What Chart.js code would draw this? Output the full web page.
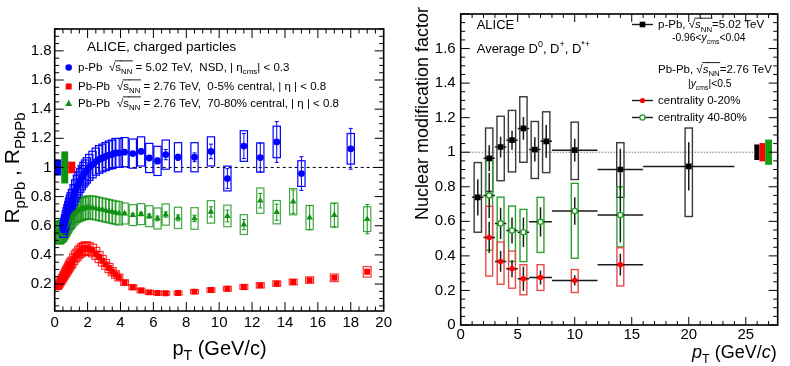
<!DOCTYPE html>
<html>
<head>
<meta charset="utf-8">
<script src="https://cdn.jsdelivr.net/npm/chart.js@4.4.1/dist/chart.umd.min.js"></script>
<style>
html,body{margin:0;padding:0;background:#fff;}
.p{position:absolute;top:0;width:395px;height:366px;}
#pa{left:0}#pb{left:395px}
</style>
</head>
<body>
<div class="p" id="pa"><canvas id="c1" width="395" height="366"></canvas></div>
<div class="p" id="pb"><canvas id="c2" width="395" height="366"></canvas></div>
<script>
// ================= LEFT PANEL DATA (charged particles) =================
const leftXTicks = [0,2,4,6,8,10,12,14,16,18,20];
const leftXLabels = ['0','2','4','6','8','10','12','14','16','18','20'];
const leftYTicks = [0.2,0.4,0.6,0.8,1.0,1.2,1.4,1.6,1.8];
const leftYLabels = ['0.2','0.4','0.6','0.8','1','1.2','1.4','1.6','1.8'];

// p-Pb sqrt(sNN)=5.02 TeV, NSD
const pPbPt = [0.525,0.575,0.625,0.675,0.725,0.775,0.825,0.875,0.925,0.975,
  1.05,1.15,1.25,1.35,1.45,1.55,1.65,1.75,1.85,1.95,
  2.1,2.3,2.5,2.7,2.9,3.1,3.3,3.5,3.7,3.9,
  4.25,4.75,5.25,5.75,6.25,6.75,7.5,8.5,9.5,10.5,11.5,12.5,13.5,15,18];
const pPbR = [0.57,0.595,0.62,0.645,0.665,0.685,0.705,0.725,0.745,0.76,
  0.78,0.81,0.84,0.87,0.89,0.91,0.93,0.95,0.965,0.98,
  1.0,1.02,1.04,1.055,1.065,1.075,1.085,1.09,1.1,1.1,
  1.105,1.095,1.11,1.065,1.045,1.088,1.07,1.07,1.11,0.924,1.147,1.068,1.175,0.958,1.128];
const pPbStat = [0,0,0,0,0,0,0,0,0,0,
  0,0,0,0,0,0,0,0,0,0,
  0,0,0,0,0,0,0,0,0,0,
  0.01,0.012,0.015,0.017,0.02,0.035,0.02,0.03,0.05,0.068,0.086,0.10,0.14,0.116,0.14];
const pPbSys = [0.05,0.053,0.055,0.057,0.059,0.06,0.062,0.064,0.066,0.068,
  0.069,0.072,0.075,0.077,0.079,0.081,0.083,0.085,0.086,0.087,
  0.089,0.091,0.093,0.095,0.095,0.096,0.097,0.098,0.099,0.099,
  0.10,0.10,0.10,0.10,0.10,0.10,0.10,0.10,0.10,0.085,0.105,0.10,0.108,0.088,0.105];

// Pb-Pb sqrt(sNN)=2.76 TeV transverse momentum bins
const pbPbPt = [0.175,0.225,0.275,0.325,0.375,0.425,0.475,0.525,0.575,0.625,0.675,0.725,0.775,0.825,0.875,0.925,0.975,
  1.05,1.15,1.25,1.35,1.45,1.55,1.65,1.75,1.85,1.95,
  2.1,2.3,2.5,2.7,2.9,3.1,3.3,3.5,3.7,3.9,
  4.25,4.75,5.25,5.75,6.25,6.75,7.5,8.5,9.5,10.5,11.5,12.5,13.5,14.5,15.5,17,19];
// 0-5% central
const centR = [0.18,0.19,0.20,0.21,0.22,0.23,0.24,0.25,0.26,0.27,0.28,0.29,0.30,0.31,0.32,0.33,0.34,
  0.35,0.37,0.39,0.40,0.415,0.425,0.435,0.44,0.445,0.445,
  0.44,0.43,0.41,0.385,0.36,0.335,0.31,0.285,0.265,0.245,
  0.21,0.178,0.156,0.143,0.138,0.137,0.138,0.148,0.159,0.168,0.18,0.191,0.203,0.214,0.227,0.243,0.284];
const centStat = [0,0,0,0,0,0,0,0,0,0,0,0,0,0,0,0,0,
  0,0,0,0,0,0,0,0,0,0,
  0,0,0,0,0,0,0,0,0,0,
  0.002,0.002,0.002,0.002,0.002,0.002,0.002,0.003,0.003,0.004,0.005,0.006,0.007,0.008,0.009,0.01,0.012];
const centSys = [0.018,0.019,0.02,0.021,0.022,0.023,0.024,0.025,0.026,0.027,0.028,0.029,0.03,0.031,0.032,0.033,0.034,
  0.035,0.037,0.039,0.04,0.041,0.042,0.043,0.044,0.044,0.044,
  0.044,0.043,0.041,0.038,0.036,0.033,0.031,0.028,0.026,0.024,
  0.019,0.017,0.015,0.014,0.013,0.013,0.013,0.014,0.015,0.016,0.017,0.018,0.019,0.02,0.022,0.026,0.036];
// 70-80% central
const periR = [0.56,0.555,0.55,0.55,0.555,0.56,0.565,0.57,0.58,0.59,0.60,0.61,0.62,0.63,0.64,0.65,0.655,
  0.665,0.68,0.69,0.70,0.705,0.71,0.715,0.72,0.72,0.725,
  0.725,0.725,0.72,0.715,0.71,0.705,0.70,0.695,0.69,0.685,
  0.684,0.673,0.68,0.666,0.65,0.677,0.654,0.65,0.695,0.667,0.608,0.772,0.693,0.765,0.656,0.673,0.645];
const periStat = [0,0,0,0,0,0,0,0,0,0,0,0,0,0,0,0,0,
  0,0,0,0,0,0,0,0,0,0,
  0,0,0,0,0,0,0,0,0,0,
  0.008,0.01,0.012,0.014,0.016,0.018,0.02,0.022,0.035,0.04,0.035,0.05,0.055,0.08,0.083,0.08,0.1];
const periSys = [0.075,0.075,0.075,0.075,0.075,0.075,0.075,0.075,0.075,0.075,0.075,0.075,0.075,0.075,0.075,0.075,0.075,
  0.078,0.078,0.078,0.078,0.078,0.078,0.078,0.078,0.078,0.078,
  0.08,0.08,0.08,0.08,0.08,0.08,0.08,0.08,0.08,0.08,
  0.072,0.072,0.072,0.072,0.072,0.073,0.073,0.074,0.077,0.074,0.068,0.087,0.08,0.09,0.083,0.083,0.085];
// normalisation uncertainties around unity (p-Pb, 70-80%, 0-5%)
const leftNormX0 = [0, 0.4, 0.82];
const leftNormX1 = [0.4, 0.82, 1.25];
const leftNormHalf = [0.055, 0.11, 0.04];

// ================= RIGHT PANEL DATA (D mesons) =================
const rightXTicks = [0,5,10,15,20,25];
const rightXLabels = ['0','5','10','15','20','25'];
const rightYTicks = [0,0.2,0.4,0.6,0.8,1.0,1.2,1.4,1.6];
const rightYLabels = ['0','0.2','0.4','0.6','0.8','1','1.2','1.4','1.6'];

const dPPbPt = [1.5,2.5,3.5,4.5,5.5,6.5,7.5,10,14,20];
const dPPbXerr = [0.5,0.5,0.5,0.5,0.5,0.5,0.5,2,2,4];
const dPPbR = [0.739,0.965,1.03,1.07,1.138,1.016,1.063,1.012,0.90,0.918];
const dPPbStat = [0.105,0.075,0.06,0.055,0.066,0.07,0.095,0.066,0.12,0.14];
const dPPbSysUp = [0.201,0.175,0.178,0.172,0.183,0.162,0.171,0.162,0.155,0.222];
const dPPbSysLo = [0.202,0.192,0.195,0.184,0.196,0.168,0.181,0.17,0.161,0.29];

const dCentPt = [2.5,3.5,4.5,5.5,7,10,14];
const dCentXerr = [0.5,0.5,0.5,0.5,1,2,2];
const dCentR = [0.507,0.368,0.326,0.268,0.275,0.258,0.349];
const dCentStat = [0.09,0.06,0.05,0.07,0.04,0.03,0.063];
const dCentSysUp = [0.18,0.112,0.102,0.081,0.074,0.063,0.098];
const dCentSysLo = [0.224,0.132,0.113,0.093,0.075,0.07,0.123];

const dPeriPt = [2.5,3.5,4.5,5.5,7,10,14];
const dPeriXerr = [0.5,0.5,0.5,0.5,1,2,2];
const dPeriR = [0.75,0.588,0.547,0.537,0.597,0.66,0.637];
const dPeriStat = [0.13,0.09,0.075,0.085,0.085,0.08,0.16];
const dPeriSysUp = [0.2,0.152,0.141,0.132,0.142,0.16,0.163];
const dPeriSysLo = [0.317,0.217,0.18,0.17,0.177,0.274,0.185];

const rightNormX0 = [25.75, 26.2, 26.7];
const rightNormX1 = [26.2, 26.7, 27.3];
const rightNormHalf = [0.045, 0.053, 0.073];

// ================= helpers =================
const FONT = '"Liberation Sans", Arial, Helvetica, sans-serif';
Chart.defaults.font.family = FONT;
Chart.defaults.color = '#000';

function pts(xs, ys) { return xs.map((x, i) => ({x: x, y: ys[i]})); }

function rich(ctx, x, y, segs, align) {
  let w = 0; const items = [];
  for (const s of segs) {
    const font = (s.i ? 'italic ' : '') + s.s + 'px ' + FONT;
    ctx.font = font;
    const mw = ctx.measureText(s.t).width;
    items.push({s: s, font: font, off: w, w: mw});
    w += mw + (s.g || 0);
  }
  const x0 = align === 'right' ? x - w : (align === 'center' ? x - w / 2 : x);
  ctx.textAlign = 'left'; ctx.textBaseline = 'alphabetic';
  for (const it of items) {
    ctx.font = it.font;
    ctx.fillText(it.s.t, x0 + it.off, y + (it.s.dy || 0));
    if (it.s.ol) {
      ctx.save(); ctx.lineWidth = 0.9; ctx.strokeStyle = ctx.fillStyle; ctx.beginPath();
      ctx.moveTo(x0 + it.off - 0.5, y - it.s.ol); ctx.lineTo(x0 + it.off + it.w + 0.5, y - it.s.ol); ctx.stroke(); ctx.restore();
    }
  }
  return w;
}
function sq(size, italic) {
  const ol = size * 0.88;
  return [{t: '\u221A', s: size}, {t: 's', s: size, i: italic, ol: ol}, {t: 'NN', s: size * 0.68, dy: size * 0.3, ol: ol}];
}

function clipArea(chart) {
  const a = chart.chartArea, ctx = chart.ctx;
  ctx.beginPath(); ctx.rect(a.left, a.top, a.right - a.left, a.bottom - a.top); ctx.clip();
}
function drawBoxes(chart, list) {
  const ctx = chart.ctx, x = chart.scales.x, y = chart.scales.y;
  ctx.save(); clipArea(chart);
  for (const s of list) {
    ctx.strokeStyle = s.color; ctx.lineWidth = s.lw || 1.2;
    for (let i = 0; i < s.x.length; i++) {
      const up = s.up[i], lo = s.lo ? s.lo[i] : s.up[i];
      const x0 = x.getPixelForValue(s.x[i] - s.hw), x1 = x.getPixelForValue(s.x[i] + s.hw);
      const y0 = y.getPixelForValue(s.y[i] + up), y1 = y.getPixelForValue(s.y[i] - lo);
      ctx.strokeRect(x0, y0, x1 - x0, y1 - y0);
    }
  }
  ctx.restore();
}
function drawErrors(chart, list) {
  const ctx = chart.ctx, x = chart.scales.x, y = chart.scales.y;
  ctx.save(); clipArea(chart);
  for (const s of list) {
    ctx.strokeStyle = s.color; ctx.lineWidth = s.lw || 1;
    ctx.beginPath();
    for (let i = 0; i < s.x.length; i++) {
      const px = x.getPixelForValue(s.x[i]), py = y.getPixelForValue(s.y[i]);
      const e = s.err[i];
      if (e > 0.004) {
        const y0 = y.getPixelForValue(s.y[i] + e), y1 = y.getPixelForValue(s.y[i] - e);
        ctx.moveTo(px, y0); ctx.lineTo(px, y1);
        if (s.cap) {
          ctx.moveTo(px - s.cap, y0); ctx.lineTo(px + s.cap, y0);
          ctx.moveTo(px - s.cap, y1); ctx.lineTo(px + s.cap, y1);
        }
      }
      if (s.xerr) {
        ctx.moveTo(x.getPixelForValue(s.x[i] - s.xerr[i]), py);
        ctx.lineTo(x.getPixelForValue(s.x[i] + s.xerr[i]), py);
      }
    }
    ctx.stroke();
  }
  ctx.restore();
}
function drawNorm(chart, x0s, x1s, half, colors) {
  const ctx = chart.ctx, x = chart.scales.x, y = chart.scales.y;
  ctx.save();
  for (let i = 0; i < x0s.length; i++) {
    const a = x.getPixelForValue(x0s[i]), b = x.getPixelForValue(x1s[i]);
    const t = y.getPixelForValue(1 + half[i]), u = y.getPixelForValue(1 - half[i]);
    ctx.fillStyle = colors[i]; ctx.fillRect(a, t, b - a, u - t);
  }
  ctx.restore();
}
function drawFrame(chart, xr, yr) {
  const ctx = chart.ctx, a = chart.chartArea, x = chart.scales.x, y = chart.scales.y;
  ctx.save();
  ctx.strokeStyle = '#000'; ctx.lineWidth = 1;
  ctx.beginPath();
  for (let k = 0; ; k++) {
    const v = xr.min + k * xr.minor; if (v > xr.max + 1e-9) break;
    const major = Math.abs(v / xr.major - Math.round(v / xr.major)) < 1e-6;
    const L = major ? xr.L : xr.L / 2;
    const p = x.getPixelForValue(v);
    ctx.moveTo(p, a.bottom); ctx.lineTo(p, a.bottom - L);
    ctx.moveTo(p, a.top); ctx.lineTo(p, a.top + L);
  }
  for (let k = 0; ; k++) {
    const v = yr.min + k * yr.minor; if (v > yr.max + 1e-9) break;
    const major = Math.abs(v / yr.major - Math.round(v / yr.major)) < 1e-6;
    const L = major ? yr.L : yr.L / 2;
    const p = y.getPixelForValue(v);
    ctx.moveTo(a.left, p); ctx.lineTo(a.left + L, p);
    ctx.moveTo(a.right, p); ctx.lineTo(a.right - L, p);
  }
  ctx.stroke();
  ctx.lineWidth = 1.6;
  ctx.strokeRect(a.left, a.top, a.right - a.left, a.bottom - a.top);
  ctx.restore();
}
function marker(ctx, style, x, y, r, fill, stroke) {
  ctx.save(); ctx.beginPath();
  if (style === 'circle') ctx.arc(x, y, r, 0, Math.PI * 2);
  else if (style === 'rect') ctx.rect(x - r, y - r, 2 * r, 2 * r);
  else if (style === 'triangle') { ctx.moveTo(x, y - r * 1.1); ctx.lineTo(x + r, y + r * 0.75); ctx.lineTo(x - r, y + r * 0.75); ctx.closePath(); }
  if (fill) { ctx.fillStyle = fill; ctx.fill(); }
  if (stroke) { ctx.strokeStyle = stroke; ctx.lineWidth = 1.4; ctx.stroke(); }
  ctx.restore();
}

const BLUE = '#0000ff', RED = '#ff0000', GREEN = '#119111';

// ================= LEFT CHART =================
const leftDeco = {
  id: 'leftDeco',
  beforeDatasetsDraw(chart) {
    const ctx = chart.ctx, x = chart.scales.x, y = chart.scales.y;
    ctx.save(); ctx.strokeStyle = '#000'; ctx.lineWidth = 1; ctx.setLineDash([3, 3]);
    ctx.beginPath(); ctx.moveTo(x.getPixelForValue(0), y.getPixelForValue(1)); ctx.lineTo(x.getPixelForValue(20), y.getPixelForValue(1)); ctx.stroke();
    ctx.restore();
    drawNorm(chart, leftNormX0, leftNormX1, leftNormHalf, [BLUE, GREEN, RED]);
    drawBoxes(chart, [
      {x: pbPbPt, y: centR, up: centSys, hw: 0.24, color: 'rgba(255,0,0,0.8)', lw: 1.2},
      {x: pbPbPt, y: periR, up: periSys, hw: 0.22, color: 'rgba(17,145,17,0.8)', lw: 1.2},
      {x: pPbPt, y: pPbR, up: pPbSys, hw: 0.22, color: BLUE, lw: 1.2}
    ]);
    drawErrors(chart, [
      {x: pbPbPt, y: centR, err: centStat, color: RED, cap: 2},
      {x: pbPbPt, y: periR, err: periStat, color: GREEN, cap: 2},
      {x: pPbPt, y: pPbR, err: pPbStat, color: BLUE, cap: 2}
    ]);
  },
  afterDraw(chart) {
    const ctx = chart.ctx;
    drawFrame(chart, {min: 0, max: 20, major: 2, minor: 0.5, L: 9}, {min: 0.05, max: 1.95, major: 0.2, minor: 0.05, L: 9});
    ctx.save();
    ctx.fillStyle = '#000';
    // axis titles
    rich(ctx, 219.5, 355, [{t: 'p', s: 20}, {t: 'T', s: 14, dy: 5}, {t: ' (GeV/c)', s: 20}], 'center');
    ctx.save(); ctx.translate(18.5, 168); ctx.rotate(-Math.PI / 2);
    rich(ctx, 0, 0, [{t: 'R', s: 21}, {t: 'pPb', s: 15, dy: 6}, {t: ' , R', s: 21}, {t: 'PbPb', s: 15, dy: 6}], 'center');
    ctx.restore();
    // legend
    rich(ctx, 87, 50.7, [{t: 'ALICE, charged particles', s: 13.5}], 'left');
    const F = 11.5;
    marker(ctx, 'circle', 68.7, 67.5, 3.3, BLUE);
    marker(ctx, 'rect', 68.7, 86.5, 3, RED);
    marker(ctx, 'triangle', 68.7, 103.5, 3.4, GREEN);
    rich(ctx, 78, 71, [{t: 'p-Pb', s: F}], 'left');
    rich(ctx, 109, 71, sq(F, false).concat([{t: ' = 5.02 TeV,  NSD, | \u03B7', s: F}, {t: 'cms', s: F * 0.7, dy: 3}, {t: '| < 0.3', s: F}]), 'left');
    rich(ctx, 78, 90, [{t: 'Pb-Pb', s: F}], 'left');
    rich(ctx, 117, 90, sq(F, false).concat([{t: ' = 2.76 TeV,  0-5% central, | \u03B7 | < 0.8', s: F}]), 'left');
    rich(ctx, 78, 107, [{t: 'Pb-Pb', s: F}], 'left');
    rich(ctx, 117, 107, sq(F, false).concat([{t: ' = 2.76 TeV,  70-80% central, | \u03B7 | < 0.8', s: F}]), 'left');
    ctx.restore();
  }
};

function tickScale(min, max, ticks, labels, isX, size, fit, pad) {
  return {
    type: 'linear', min: min, max: max,
    afterBuildTicks: s => { s.ticks = ticks.map(v => ({value: v})); },
    ticks: {callback: (v, i) => labels[i], font: {size: size, family: FONT}, color: '#000', padding: pad, maxRotation: 0, autoSkip: false},
    grid: {display: false, drawTicks: false},
    border: {display: false},
    afterFit: s => { if (isX) s.height = fit; else s.width = fit; }
  };
}

new Chart(document.getElementById('c1'), {
  type: 'scatter',
  data: {
    datasets: [
      {label: 'p-Pb', data: pts(pPbPt, pPbR), pointStyle: 'circle', pointRadius: 3.4, backgroundColor: BLUE, borderWidth: 0},
      {label: 'Pb-Pb 70-80%', data: pts(pbPbPt, periR), pointStyle: 'triangle', pointRadius: 3.8, backgroundColor: GREEN, borderWidth: 0},
      {label: 'Pb-Pb 0-5%', data: pts(pbPbPt, centR), pointStyle: 'rect', pointRadius: 4.2, backgroundColor: RED, borderWidth: 0}
    ]
  },
  options: {
    responsive: false, devicePixelRatio: 1, animation: false, events: [],
    layout: {padding: {left: 0, right: 11, top: 29, bottom: 0}},
    plugins: {legend: {display: false}, tooltip: {enabled: false}},
    scales: {
      x: tickScale(0, 20, leftXTicks, leftXLabels, true, 15, 55, 3),
      y: tickScale(0.015, 1.95, leftYTicks, leftYLabels, false, 15, 54.7, 3)
    }
  },
  plugins: [leftDeco]
});

// ================= RIGHT CHART =================
const rightDeco = {
  id: 'rightDeco',
  beforeDatasetsDraw(chart) {
    const ctx = chart.ctx, x = chart.scales.x, y = chart.scales.y;
    ctx.save(); ctx.strokeStyle = '#000'; ctx.lineWidth = 0.8; ctx.setLineDash([1, 2]);
    ctx.beginPath(); ctx.moveTo(x.getPixelForValue(0), y.getPixelForValue(1)); ctx.lineTo(x.getPixelForValue(25.75), y.getPixelForValue(1)); ctx.stroke();
    ctx.restore();
    drawNorm(chart, rightNormX0, rightNormX1, rightNormHalf, ['#000', RED, '#12a012']);
    drawBoxes(chart, [
      {x: dPPbPt, y: dPPbR, up: dPPbSysUp, lo: dPPbSysLo, hw: 0.32, color: '#3a3a3a', lw: 1.4},
      {x: dPeriPt, y: dPeriR, up: dPeriSysUp, lo: dPeriSysLo, hw: 0.3, color: '#2ea02e', lw: 1.4},
      {x: dCentPt, y: dCentR, up: dCentSysUp, lo: dCentSysLo, hw: 0.3, color: '#ea4a4a', lw: 1.4}
    ]);
    drawErrors(chart, [
      {x: dPPbPt, y: dPPbR, err: dPPbStat, xerr: dPPbXerr, color: '#1a1a1a', lw: 1.5},
      {x: dPeriPt, y: dPeriR, err: dPeriStat, xerr: dPeriXerr, color: '#1a1a1a', lw: 1.5},
      {x: dCentPt, y: dCentR, err: dCentStat, xerr: dCentXerr, color: '#1a1a1a', lw: 1.5}
    ]);
  },
  afterDraw(chart) {
    const ctx = chart.ctx;
    drawFrame(chart, {min: 0, max: 27, major: 5, minor: 1, L: 8}, {min: 0, max: 1.8, major: 0.2, minor: 0.05, L: 9});
    ctx.save(); ctx.fillStyle = '#000';
    rich(ctx, 381.7, 358, [{t: 'p', s: 18, i: true}, {t: 'T', s: 12.5, dy: 5}, {t: ' (GeV/', s: 18}, {t: 'c', s: 18, i: true}, {t: ')', s: 18}], 'right');
    ctx.save(); ctx.translate(32.7, 7); ctx.rotate(-Math.PI / 2);
    rich(ctx, 0, 0, [{t: 'Nuclear modification factor', s: 18}], 'right');
    ctx.restore();
    rich(ctx, 81.7, 29.3, [{t: 'ALICE', s: 13}], 'left');
    rich(ctx, 81.7, 53.3, [{t: 'Average D', s: 13}, {t: '0', s: 9, dy: -6}, {t: ', D', s: 13}, {t: '+', s: 9, dy: -6}, {t: ', D', s: 13}, {t: '*+', s: 9, dy: -6}], 'left');
    const F = 11.5;
    // legend markers
    ctx.save(); ctx.lineWidth = 1.4;
    ctx.strokeStyle = '#1a1a1a'; ctx.beginPath(); ctx.moveTo(237, 24.5); ctx.lineTo(258, 24.5); ctx.stroke();
    ctx.strokeStyle = '#1a1a1a'; ctx.beginPath(); ctx.moveTo(237, 100.5); ctx.lineTo(258, 100.5); ctx.stroke();
    ctx.beginPath(); ctx.moveTo(237, 117.5); ctx.lineTo(258, 117.5); ctx.stroke();
    ctx.restore();
    marker(ctx, 'rect', 247.5, 24.5, 2.8, '#000');
    marker(ctx, 'circle', 247.5, 100.5, 2.6, RED);
    marker(ctx, 'circle', 247.5, 117.5, 2.6, '#fff', '#2a9a2a');
    rich(ctx, 263, 28.3, [{t: 'p-Pb, ', s: F}].concat(sq(F, true)).concat([{t: '=5.02 TeV', s: F}]), 'left');
    rich(ctx, 277, 40.7, [{t: '-0.96<', s: F * 0.9}, {t: 'y', s: F * 0.9, i: true}, {t: 'cms', s: F * 0.6, dy: 3}, {t: '<0.04', s: F * 0.9}], 'left');
    rich(ctx, 263, 72.7, [{t: 'Pb-Pb, ', s: F}].concat(sq(F, true)).concat([{t: '=2.76 TeV', s: F}]), 'left');
    rich(ctx, 293, 86.7, [{t: '|', s: F * 0.9}, {t: 'y', s: F * 0.9, i: true}, {t: 'cms', s: F * 0.6, dy: 3}, {t: '|<0.5', s: F * 0.9}], 'left');
    rich(ctx, 263, 104, [{t: 'centrality 0-20%', s: F}], 'left');
    rich(ctx, 263, 120.7, [{t: 'centrality 40-80%', s: F}], 'left');
    ctx.restore();
  }
};

new Chart(document.getElementById('c2'), {
  type: 'scatter',
  data: {
    datasets: [
      {label: 'p-Pb', data: pts(dPPbPt, dPPbR), pointStyle: 'rect', pointRadius: 4, backgroundColor: '#000', borderWidth: 0},
      {label: 'centrality 0-20%', data: pts(dCentPt, dCentR), pointStyle: 'circle', pointRadius: 2.7, backgroundColor: RED, borderWidth: 0},
      {label: 'centrality 40-80%', data: pts(dPeriPt, dPeriR), pointStyle: 'circle', pointRadius: 2.6, backgroundColor: '#fff', borderColor: '#2a9a2a', borderWidth: 1.4}
    ]
  },
  options: {
    responsive: false, devicePixelRatio: 1, animation: false, events: [],
    layout: {padding: {left: 0, right: 12.3, top: 6.7, bottom: 0}},
    plugins: {legend: {display: false}, tooltip: {enabled: false}},
    scales: {
      x: tickScale(0, 27.8, rightXTicks, rightXLabels, true, 15, 41, 1),
      y: tickScale(0, 1.8, rightYTicks, rightYLabels, false, 15, 65.7, 5)
    }
  },
  plugins: [rightDeco]
});
</script>
</body>
</html>
